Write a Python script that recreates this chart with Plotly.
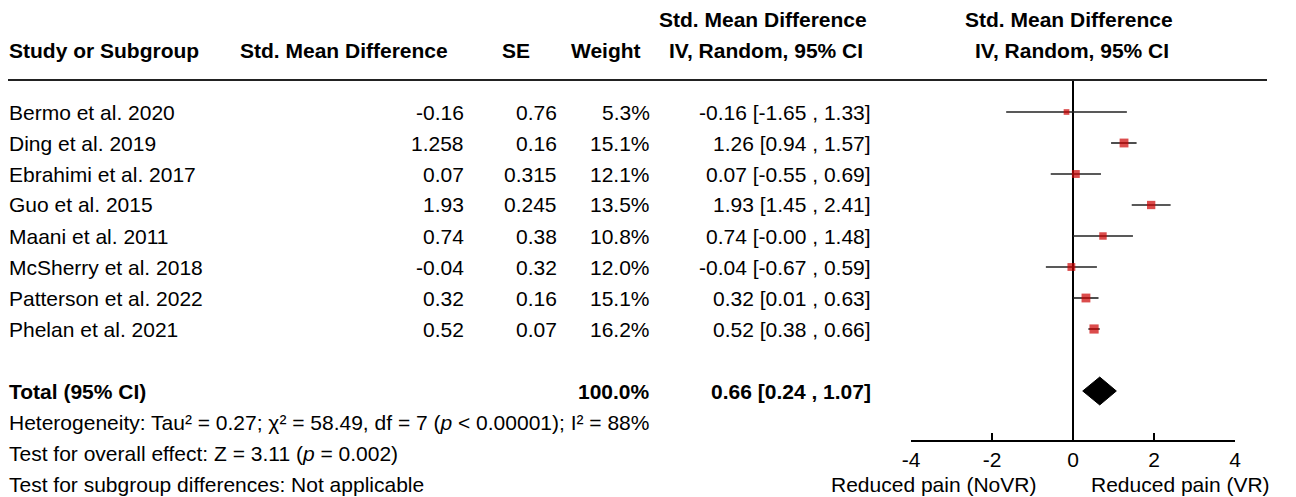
import plotly.graph_objects as go

studies = ["Bermo et al. 2020", "Ding et al. 2019", "Ebrahimi et al. 2017", "Guo et al. 2015",
           "Maani et al. 2011", "McSherry et al. 2018", "Patterson et al. 2022", "Phelan et al. 2021"]
smd_raw = ["-0.16", "1.258", "0.07", "1.93", "0.74", "-0.04", "0.32", "0.52"]
se_raw = ["0.76", "0.16", "0.315", "0.245", "0.38", "0.32", "0.16", "0.07"]
weights = [5.3, 15.1, 12.1, 13.5, 10.8, 12.0, 15.1, 16.2]
est = [-0.16, 1.26, 0.07, 1.93, 0.74, -0.04, 0.32, 0.52]
lower = [-1.65, 0.94, -0.55, 1.45, -0.00, -0.67, 0.01, 0.38]
upper = [1.33, 1.57, 0.69, 2.41, 1.48, 0.59, 0.63, 0.66]
total_est, total_lo, total_hi = 0.66, 0.24, 1.07
total_weight = "100.0%"
x_ticks = [-4, -2, 0, 2, 4]
footers = ["Heterogeneity: Tau² = 0.27; χ² = 58.49, df = 7 (<i>p</i> < 0.00001); I² = 88%",
           "Test for overall effect: Z = 3.11 (<i>p</i> = 0.002)",
           "Test for subgroup differences: Not applicable"]

W, H = 1296, 497
FONT = "Liberation Sans, Arial, sans-serif"
FS = 21

def px(x):
    return x / W

def row_py(i):
    return 1 - (112 + 31 * i) / H

rows = list(range(len(studies)))
total_row = len(studies) + 1

fig = go.Figure()

fig.add_trace(go.Scatter(
    x=est, y=rows, mode="markers",
    marker=dict(symbol="square", color="#cc0000", size=[4 + w * 0.32 for w in weights],
                line=dict(width=0)),
    error_x=dict(type="data", symmetric=False,
                 array=[u - e for u, e in zip(upper, est)],
                 arrayminus=[e - l for e, l in zip(est, lower)],
                 color="#222", thickness=1.6, width=0),
    hoverinfo="skip", showlegend=False, cliponaxis=False))

dh = 0.45
fig.add_trace(go.Scatter(
    x=[total_lo, total_est, total_hi, total_est, total_lo],
    y=[total_row, total_row - dh, total_row, total_row + dh, total_row],
    mode="lines", fill="toself", fillcolor="black", line=dict(color="black", width=1),
    hoverinfo="skip", showlegend=False))

top_px, bot_px = 80, 440
y_top = (top_px - 112) / 31
y_bot = (bot_px - 112) / 31

fig.update_layout(
    width=W, height=H, margin=dict(l=0, r=0, t=0, b=0, pad=0, autoexpand=False),
    paper_bgcolor="white", plot_bgcolor="white",
    font=dict(family=FONT, size=FS, color="black"),
    xaxis=dict(domain=[px(911), px(1235)], range=[-4, 4], tickvals=x_ticks,
               ticktext=[str(t) for t in x_ticks], automargin=False,
               showgrid=False, zeroline=True, zerolinecolor="black", zerolinewidth=1.6,
               showline=True, linecolor="black", linewidth=1.6,
               ticks="inside", ticklen=7, tickwidth=1.6, tickcolor="black",
               tickfont=dict(size=FS, family=FONT, color="black")),
    yaxis=dict(domain=[(H - bot_px) / H, (H - top_px) / H], range=[y_bot, y_top],
               automargin=False,
               showgrid=False, zeroline=False, showticklabels=False, showline=False),
)

fig.add_shape(type="line", xref="paper", yref="paper", x0=px(8), x1=px(1267),
              y0=(H - 80) / H, y1=(H - 80) / H, line=dict(color="#222", width=2))

ann = []
def add(text, xpix, i, anchor="left", bold=False):
    t = f"<b>{text}</b>" if bold else text
    ann.append(dict(text=t, x=px(xpix), y=row_py(i), xref="paper", yref="paper",
                    xanchor=anchor, yanchor="middle", showarrow=False, borderpad=0,
                    font=dict(family=FONT, size=FS, color="black")))

add("Study or Subgroup", 8, -2, bold=True)
add("Std. Mean Difference", 239, -2, bold=True)
add("SE", 516, -2, "center", bold=True)
add("Weight", 642, -2, "right", bold=True)
add("Std. Mean Difference", 763, -3, "center", bold=True)
add("IV, Random, 95% CI", 766, -2, "center", bold=True)
add("Std. Mean Difference", 1069, -3, "center", bold=True)
add("IV, Random, 95% CI", 1072, -2, "center", bold=True)

for i, s in enumerate(studies):
    add(s, 8, i)
    add(smd_raw[i], 465, i, "right")
    add(se_raw[i], 558, i, "right")
    add(f"{weights[i]:.1f}%", 651, i, "right")
    add(f"{est[i]:.2f} [{lower[i]:.2f} , {upper[i]:.2f}]", 872, i, "right")

add("Total (95% CI)", 8, total_row, bold=True)
add(total_weight, 651, total_row, "right", bold=True)
add(f"{total_est:.2f} [{total_lo:.2f} , {total_hi:.2f}]", 872, total_row, "right", bold=True)

for k, f in enumerate(footers):
    add(f, 8, total_row + 1 + k)

add("Reduced pain (NoVR)", 933, total_row + 3, "center")
add("Reduced pain (VR)", 1180, total_row + 3, "center")

fig.update_layout(annotations=ann)
fig.write_html("out.html", config={"displayModeBar": False},
               post_script="document.body.style.margin='0';")
